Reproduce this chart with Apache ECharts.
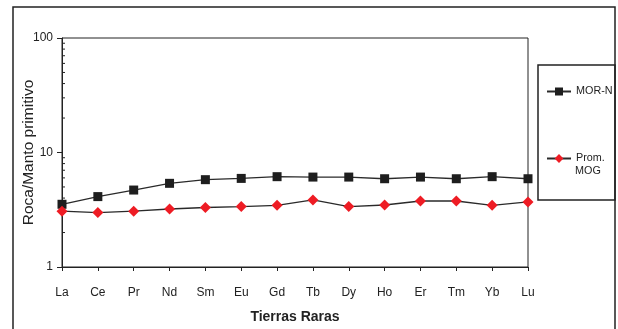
<!DOCTYPE html>
<html><head><meta charset="utf-8">
<script src="https://cdn.jsdelivr.net/npm/echarts@6/dist/echarts.min.js"></script>
<style>html,body{margin:0;padding:0;background:#fff}#c{width:618px;height:329px}</style>
</head><body><div id="c"></div>
<script>
const categories = ['La','Ce','Pr','Nd','Sm','Eu','Gd','Tb','Dy','Ho','Er','Tm','Yb','Lu'];
const morN = [3.53, 4.12, 4.70, 5.38, 5.79, 5.94, 6.15, 6.1, 6.1, 5.9, 6.1, 5.9, 6.15, 5.9];
const promMOG = [3.07, 2.99, 3.07, 3.21, 3.31, 3.37, 3.46, 3.85, 3.37, 3.48, 3.77, 3.77, 3.46, 3.70];
const minorTicks = [2,3,4,5,6,7,8,9,20,30,40,50,60,70,80,90];

const sans = "'Liberation Sans', Arial, sans-serif";
const ink = '#222';

const chart = echarts.init(document.getElementById('c'), null, {renderer:'canvas'});
chart.setOption({
  animation:false,
  backgroundColor:'#fff',
  grid:{left:62, right:90, top:38, bottom:61, show:true, borderColor:ink, borderWidth:1, backgroundColor:'transparent'},
  xAxis:{
    type:'category', data:categories, boundaryGap:false,
    axisLine:{lineStyle:{color:ink, width:1}},
    axisTick:{show:true, length:4, alignWithLabel:true, lineStyle:{color:ink}},
    axisLabel:{color:ink, fontFamily:sans, fontSize:12, margin:20, interval:0},
    splitLine:{show:false},
    name:'Tierras Raras', nameLocation:'middle', nameGap:43, nameMoveOverlap:false,
    nameTextStyle:{color:ink, fontFamily:sans, fontWeight:'bold', fontSize:14}
  },
  yAxis:{
    type:'log', logBase:10, min:1, max:100,
    axisLine:{show:true, lineStyle:{color:ink, width:1}},
    axisTick:{show:true, length:5, lineStyle:{color:ink}},
    axisLabel:{color:ink, fontFamily:sans, fontSize:12, margin:9},
    splitLine:{show:false},
    name:'Roca/Manto primitivo', nameLocation:'middle', nameGap:25, nameRotate:90, nameMoveOverlap:false,
    nameTextStyle:{color:ink, fontFamily:sans, fontSize:15.5}
  },
  legend:[
    {data:['MOR-N'], orient:'vertical', left:546, top:86, itemWidth:24, itemHeight:10, itemGap:0,
     textStyle:{color:ink, fontFamily:sans, fontSize:10.8}, padding:0},
    {data:['Prom. MOG'], orient:'vertical', left:546, top:153, itemWidth:24, itemHeight:11, itemGap:0,
     formatter:function(){return 'Prom.';},
     textStyle:{color:ink, fontFamily:sans, fontSize:10.8}, padding:0}
  ],
  graphic:[
    {type:'rect', silent:true, shape:{x:13, y:7, width:602, height:340}, style:{fill:'none', stroke:ink, lineWidth:1.5}},
    {type:'rect', silent:true, shape:{x:538, y:65, width:77, height:135}, style:{fill:'none', stroke:ink, lineWidth:1.5}},
    {type:'text', silent:true, left:575, top:166, style:{text:'MOG', fill:ink, font:"10.8px "+sans}}
  ],
  series:[
    {name:'MOR-N', type:'line', data:morN, symbol:'rect', symbolSize:9,
     lineStyle:{color:'#2a2a2a', width:1.3}, itemStyle:{color:'#1e1e1e'}, z:3},
    {name:'Prom. MOG', type:'line', data:promMOG, symbol:'diamond', symbolSize:11,
     lineStyle:{color:'#2a2a2a', width:1.3}, itemStyle:{color:'#ee1c24'}, z:4},
    {name:'minor', type:'custom', data:minorTicks.map(v=>[0,v]), silent:true, z:2,
     renderItem:function(params, api){
       const p = api.coord([0, api.value(1)]);
       return {type:'line', shape:{x1:p[0], y1:p[1], x2:p[0]+3, y2:p[1]}, style:{stroke:ink, lineWidth:1}};
     }}
  ]
});
</script></body></html>
